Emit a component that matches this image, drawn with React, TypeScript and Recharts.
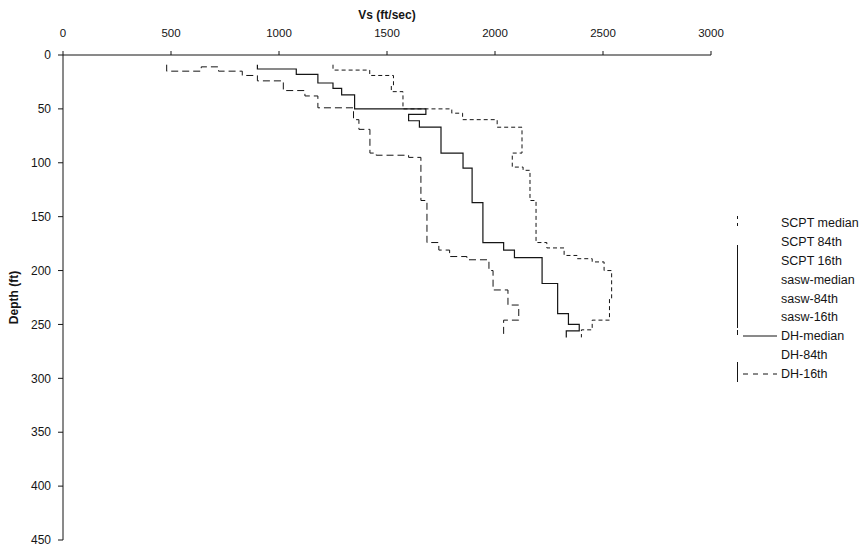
import { ScatterChart, Scatter, XAxis, YAxis, Legend } from 'recharts'

interface ProfilePoint {
  vs: number
  depth: number
}

const vsTicks = [0, 500, 1000, 1500, 2000, 2500, 3000]
const depthTicks = [0, 50, 100, 150, 200, 250, 300, 350, 400, 450]

const legendNames = [
  'SCPT median',
  'SCPT 84th',
  'SCPT 16th',
  'sasw-median',
  'sasw-84th',
  'sasw-16th',
  'DH-median',
  'DH-84th',
  'DH-16th',
]

// DH median profile (step curve)
const dhMedian: ProfilePoint[] = [
  { vs: 900, depth: 9 }, { vs: 900, depth: 13 }, { vs: 1080, depth: 13 }, { vs: 1080, depth: 18 },
  { vs: 1180, depth: 18 }, { vs: 1180, depth: 26 }, { vs: 1250, depth: 26 }, { vs: 1250, depth: 31 },
  { vs: 1290, depth: 31 }, { vs: 1290, depth: 37 }, { vs: 1350, depth: 37 }, { vs: 1350, depth: 50 },
  { vs: 1680, depth: 50 }, { vs: 1680, depth: 55 }, { vs: 1600, depth: 55 }, { vs: 1600, depth: 61 },
  { vs: 1650, depth: 61 }, { vs: 1650, depth: 67 }, { vs: 1750, depth: 67 }, { vs: 1750, depth: 91 },
  { vs: 1852, depth: 91 }, { vs: 1852, depth: 105 }, { vs: 1894, depth: 105 }, { vs: 1894, depth: 137 },
  { vs: 1944, depth: 137 }, { vs: 1944, depth: 174 }, { vs: 2040, depth: 174 }, { vs: 2040, depth: 181 },
  { vs: 2090, depth: 181 }, { vs: 2090, depth: 188 }, { vs: 2218, depth: 188 }, { vs: 2218, depth: 212 },
  { vs: 2290, depth: 212 }, { vs: 2290, depth: 240 }, { vs: 2340, depth: 240 }, { vs: 2340, depth: 250 },
  { vs: 2390, depth: 250 }, { vs: 2390, depth: 256 }, { vs: 2330, depth: 256 }, { vs: 2330, depth: 262 },
]

const dh84: ProfilePoint[] = [
  { vs: 1250, depth: 9 }, { vs: 1250, depth: 14 }, { vs: 1420, depth: 14 }, { vs: 1420, depth: 19 },
  { vs: 1530, depth: 19 }, { vs: 1530, depth: 28 }, { vs: 1520, depth: 28 }, { vs: 1520, depth: 34 },
  { vs: 1574, depth: 34 }, { vs: 1574, depth: 50 }, { vs: 1800, depth: 50 }, { vs: 1800, depth: 54 },
  { vs: 1850, depth: 54 }, { vs: 1850, depth: 60 }, { vs: 2010, depth: 60 }, { vs: 2010, depth: 67 },
  { vs: 2125, depth: 67 }, { vs: 2125, depth: 91 }, { vs: 2080, depth: 91 }, { vs: 2080, depth: 104 },
  { vs: 2130, depth: 104 }, { vs: 2130, depth: 107 }, { vs: 2162, depth: 107 }, { vs: 2162, depth: 135 },
  { vs: 2190, depth: 135 }, { vs: 2190, depth: 174 }, { vs: 2240, depth: 174 }, { vs: 2240, depth: 179 },
  { vs: 2320, depth: 179 }, { vs: 2320, depth: 186 }, { vs: 2380, depth: 186 }, { vs: 2380, depth: 189 },
  { vs: 2450, depth: 189 }, { vs: 2450, depth: 192 }, { vs: 2505, depth: 192 }, { vs: 2505, depth: 200 },
  { vs: 2540, depth: 200 }, { vs: 2540, depth: 226 }, { vs: 2530, depth: 226 }, { vs: 2530, depth: 246 },
  { vs: 2450, depth: 246 }, { vs: 2450, depth: 255 }, { vs: 2400, depth: 255 }, { vs: 2400, depth: 262 },
]

const dh16: ProfilePoint[] = [
  { vs: 480, depth: 9 }, { vs: 480, depth: 15 }, { vs: 640, depth: 15 }, { vs: 640, depth: 11 },
  { vs: 720, depth: 11 }, { vs: 720, depth: 15 }, { vs: 830, depth: 15 }, { vs: 830, depth: 19 },
  { vs: 900, depth: 19 }, { vs: 900, depth: 24 }, { vs: 1020, depth: 24 }, { vs: 1020, depth: 33 },
  { vs: 1120, depth: 33 }, { vs: 1120, depth: 38 }, { vs: 1180, depth: 38 }, { vs: 1180, depth: 49 },
  { vs: 1345, depth: 49 }, { vs: 1345, depth: 60 }, { vs: 1370, depth: 60 }, { vs: 1370, depth: 69 },
  { vs: 1421, depth: 69 }, { vs: 1421, depth: 91 }, { vs: 1450, depth: 91 }, { vs: 1450, depth: 93 },
  { vs: 1600, depth: 93 }, { vs: 1600, depth: 95 }, { vs: 1657, depth: 95 }, { vs: 1657, depth: 135 },
  { vs: 1685, depth: 135 }, { vs: 1685, depth: 174 }, { vs: 1740, depth: 174 }, { vs: 1740, depth: 181 },
  { vs: 1790, depth: 181 }, { vs: 1790, depth: 187 }, { vs: 1870, depth: 187 }, { vs: 1870, depth: 190 },
  { vs: 1972, depth: 190 }, { vs: 1972, depth: 200 }, { vs: 1991, depth: 200 }, { vs: 1991, depth: 218 },
  { vs: 2060, depth: 218 }, { vs: 2060, depth: 232 }, { vs: 2110, depth: 232 }, { vs: 2110, depth: 246 },
  { vs: 2040, depth: 246 }, { vs: 2040, depth: 262 },
]

const font = "'Liberation Sans', Arial, Helvetica, sans-serif"
const ink = '#151515'

const noDot = () => <g />

// legend line samples; the other methods have no visible sample in the scan
const sampleDash: Record<string, string | null> = {
  'DH-median': '',
  'DH-16th': '5 5',
}

function ProfileLegend() {
  return (
    <div style={{ position: 'relative', fontFamily: font, fontSize: 12.5, color: ink }}>
      {/* left edge of the legend box, partly lost in the scan */}
      <div style={{ position: 'absolute', left: 0, top: 2, width: 1, height: 3, background: ink }} />
      <div style={{ position: 'absolute', left: 0, top: 9, width: 1, height: 3, background: ink }} />
      <div style={{ position: 'absolute', left: 0, top: 31, width: 1, height: 83, background: ink }} />
      <div style={{ position: 'absolute', left: 0, top: 116, width: 1, height: 5, background: ink }} />
      <div style={{ position: 'absolute', left: 0, top: 148, width: 1, height: 20, background: ink }} />
      {legendNames.map((name) => {
        const dash = sampleDash[name]
        return (
          <div key={name} style={{ display: 'flex', alignItems: 'center', height: 18.8 }}>
            <svg width={38} height={10} style={{ marginLeft: 4 }}>
              {dash !== undefined && dash !== null && (
                <line x1={2} y1={5} x2={36} y2={5} stroke={ink} strokeWidth={1} strokeDasharray={dash || undefined} />
              )}
            </svg>
            <span style={{ marginLeft: 2, whiteSpace: 'nowrap' }}>{name}</span>
          </div>
        )
      })}
    </div>
  )
}

export default function App() {
  return (
    <div style={{ position: 'absolute', left: 0, top: 0, width: 866, height: 547, background: '#fff' }}>
      <ScatterChart width={866} height={547} margin={{ top: 15, right: 155, bottom: 7, left: 0 }}>
        <XAxis
          type="number"
          dataKey="vs"
          orientation="top"
          domain={[0, 3000]}
          ticks={vsTicks}
          height={40}
          tickSize={4}
          tickMargin={14}
          tick={{ fontSize: 11.5, fill: ink, fontFamily: font }}
          axisLine={{ stroke: ink }}
          tickLine={{ stroke: ink }}
          label={{
            value: 'Vs (ft/sec)',
            position: 'top',
            offset: -4,
            fill: ink,
            fontSize: 12,
            fontWeight: 'bold',
            fontFamily: font,
          }}
        />
        <YAxis
          type="number"
          dataKey="depth"
          reversed
          domain={[0, 450]}
          ticks={depthTicks}
          width={63}
          tickSize={5}
          tickMargin={7}
          tick={{ fontSize: 12, fill: ink, fontFamily: font }}
          axisLine={{ stroke: ink }}
          tickLine={{ stroke: ink }}
          label={{
            value: 'Depth (ft)',
            angle: -90,
            position: 'insideLeft',
            offset: 14,
            fill: ink,
            fontSize: 12,
            fontWeight: 'bold',
            fontFamily: font,
            style: { textAnchor: 'middle' },
          }}
        />
        <Legend
          layout="horizontal"
          align="center"
          verticalAlign="middle"
          content={() => <ProfileLegend />}
          wrapperStyle={{ left: 737, top: 214, width: 129 }}
        />
        <Scatter
          name="DH-median"
          data={dhMedian}
          shape={noDot}
          line={{ stroke: ink, strokeWidth: 1.2 }}
          isAnimationActive={false}
        />
        <Scatter
          name="DH-84th"
          data={dh84}
          shape={noDot}
          line={{ stroke: ink, strokeWidth: 1, strokeDasharray: '4 3' }}
          isAnimationActive={false}
        />
        <Scatter
          name="DH-16th"
          data={dh16}
          shape={noDot}
          line={{ stroke: ink, strokeWidth: 1, strokeDasharray: '7 4' }}
          isAnimationActive={false}
        />
      </ScatterChart>
    </div>
  )
}
